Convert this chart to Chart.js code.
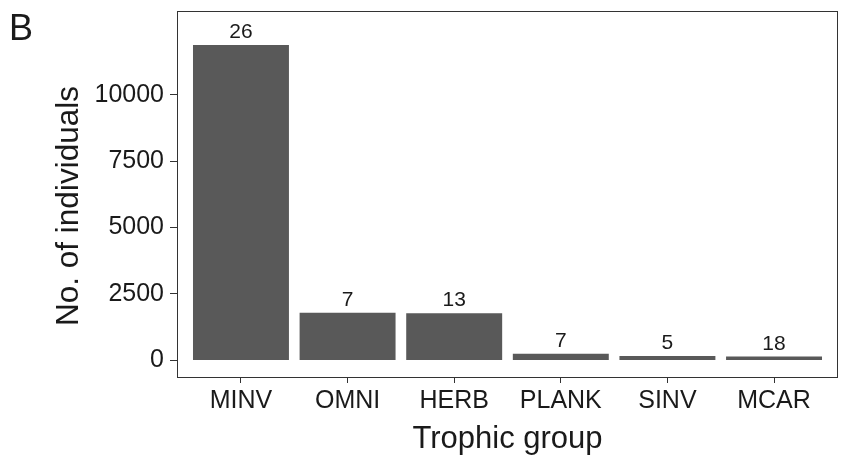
<!DOCTYPE html>
<html>
<head>
<meta charset="utf-8">
<script src="https://cdn.jsdelivr.net/npm/chart.js@4"></script>
<style>
  html, body { margin: 0; padding: 0; background: #fff; }
  #wrap { width: 843px; height: 456px; position: relative; }
</style>
</head>
<body>
<div id="wrap"><canvas id="trophicChart"></canvas></div>
<script>
// trophic groups and number of individuals
const groups = ["MINV", "OMNI", "HERB", "PLANK", "SINV", "MCAR"];
const individuals = [11870, 1790, 1770, 250, 170, 145];
// number of species shown above each bar
const species = [26, 7, 13, 7, 5, 18];
const yTicks = [0, 2500, 5000, 7500, 10000];

const FONT = "'Liberation Sans', Arial, sans-serif";
const INK = "#1a1a1a";

// panel frame, panel letter, axis titles and bar labels
const extras = {
  id: "extras",
  afterDraw(chart) {
    const ctx = chart.ctx;
    const area = chart.chartArea;
    const x = chart.scales.x, y = chart.scales.y;
    ctx.save();
    ctx.strokeStyle = "#333";
    ctx.lineWidth = 1;
    ctx.strokeRect(Math.round(area.left) + 0.5, Math.round(area.top) + 0.5,
      Math.round(area.right - area.left) - 1, Math.round(area.bottom - area.top));

    ctx.fillStyle = INK;
    ctx.textAlign = "center";
    ctx.textBaseline = "alphabetic";
    ctx.font = "21px " + FONT;
    for (let i = 0; i < groups.length; i++) {
      let px = x.getPixelForValue(i + 1);
      let py = y.getPixelForValue(individuals[i]);
      ctx.fillText(String(species[i]), px, py - 7);
    }

    ctx.font = "31px " + FONT;
    ctx.fillText("Trophic group", (area.left + area.right) / 2, 448);

    // y title sits a little below the panel centre in the figure
    ctx.save();
    ctx.translate(78, 206);
    ctx.rotate(-Math.PI / 2);
    ctx.font = "31.5px " + FONT;
    ctx.fillText("No. of individuals", 0, 0);
    ctx.restore();

    ctx.textAlign = "left";
    ctx.font = "36px " + FONT;
    ctx.fillText("B", 9, 40);
    ctx.restore();
  }
};

let ctx = document.getElementById("trophicChart").getContext("2d");

window.myChart = new Chart(ctx, {
  type: "bar",
  data: {
    datasets: [{
      data: individuals.map((v, i) => ({ x: i + 1, y: v })),
      backgroundColor: "#595959",
      borderWidth: 0,
      barPercentage: 0.9,
      categoryPercentage: 1.0
    }]
  },
  options: {
    responsive: true,
    maintainAspectRatio: false,
    animation: false,
    layout: { padding: { top: 11, right: 5, left: 0, bottom: 0 } },
    plugins: {
      legend: { display: false },
      tooltip: { enabled: false }
    },
    scales: {
      x: {
        type: "linear",
        offset: false,
        min: 0.4,
        max: 6.6,
        afterBuildTicks: function (scale) {
          scale.ticks = groups.map((g, i) => ({ value: i + 1 }));
        },
        afterFit: function (scale) {
          scale.height = 79;
          scale.paddingLeft = 0;
          scale.paddingRight = 0;
        },
        ticks: {
          callback: function (value) { return groups[value - 1]; },
          color: INK,
          font: { family: FONT, size: 25 },
          padding: 3,
          maxRotation: 0,
          autoSkip: false
        },
        grid: { offset: false, drawOnChartArea: false, drawTicks: true, tickLength: 6, color: "#333" },
        border: { display: false }
      },
      y: {
        min: -625,
        max: 13150,
        afterBuildTicks: function (scale) {
          scale.ticks = yTicks.map(v => ({ value: v }));
        },
        afterFit: function (scale) {
          scale.width = 177;
          scale.paddingTop = 0;
          scale.paddingBottom = 0;
        },
        ticks: {
          callback: function (value) { return String(value); },
          color: INK,
          font: { family: FONT, size: 25 },
          padding: 6
        },
        grid: { drawOnChartArea: false, drawTicks: true, tickLength: 7, color: "#333" },
        border: { display: false }
      }
    }
  },
  plugins: [extras]
});
</script>
</body>
</html>
